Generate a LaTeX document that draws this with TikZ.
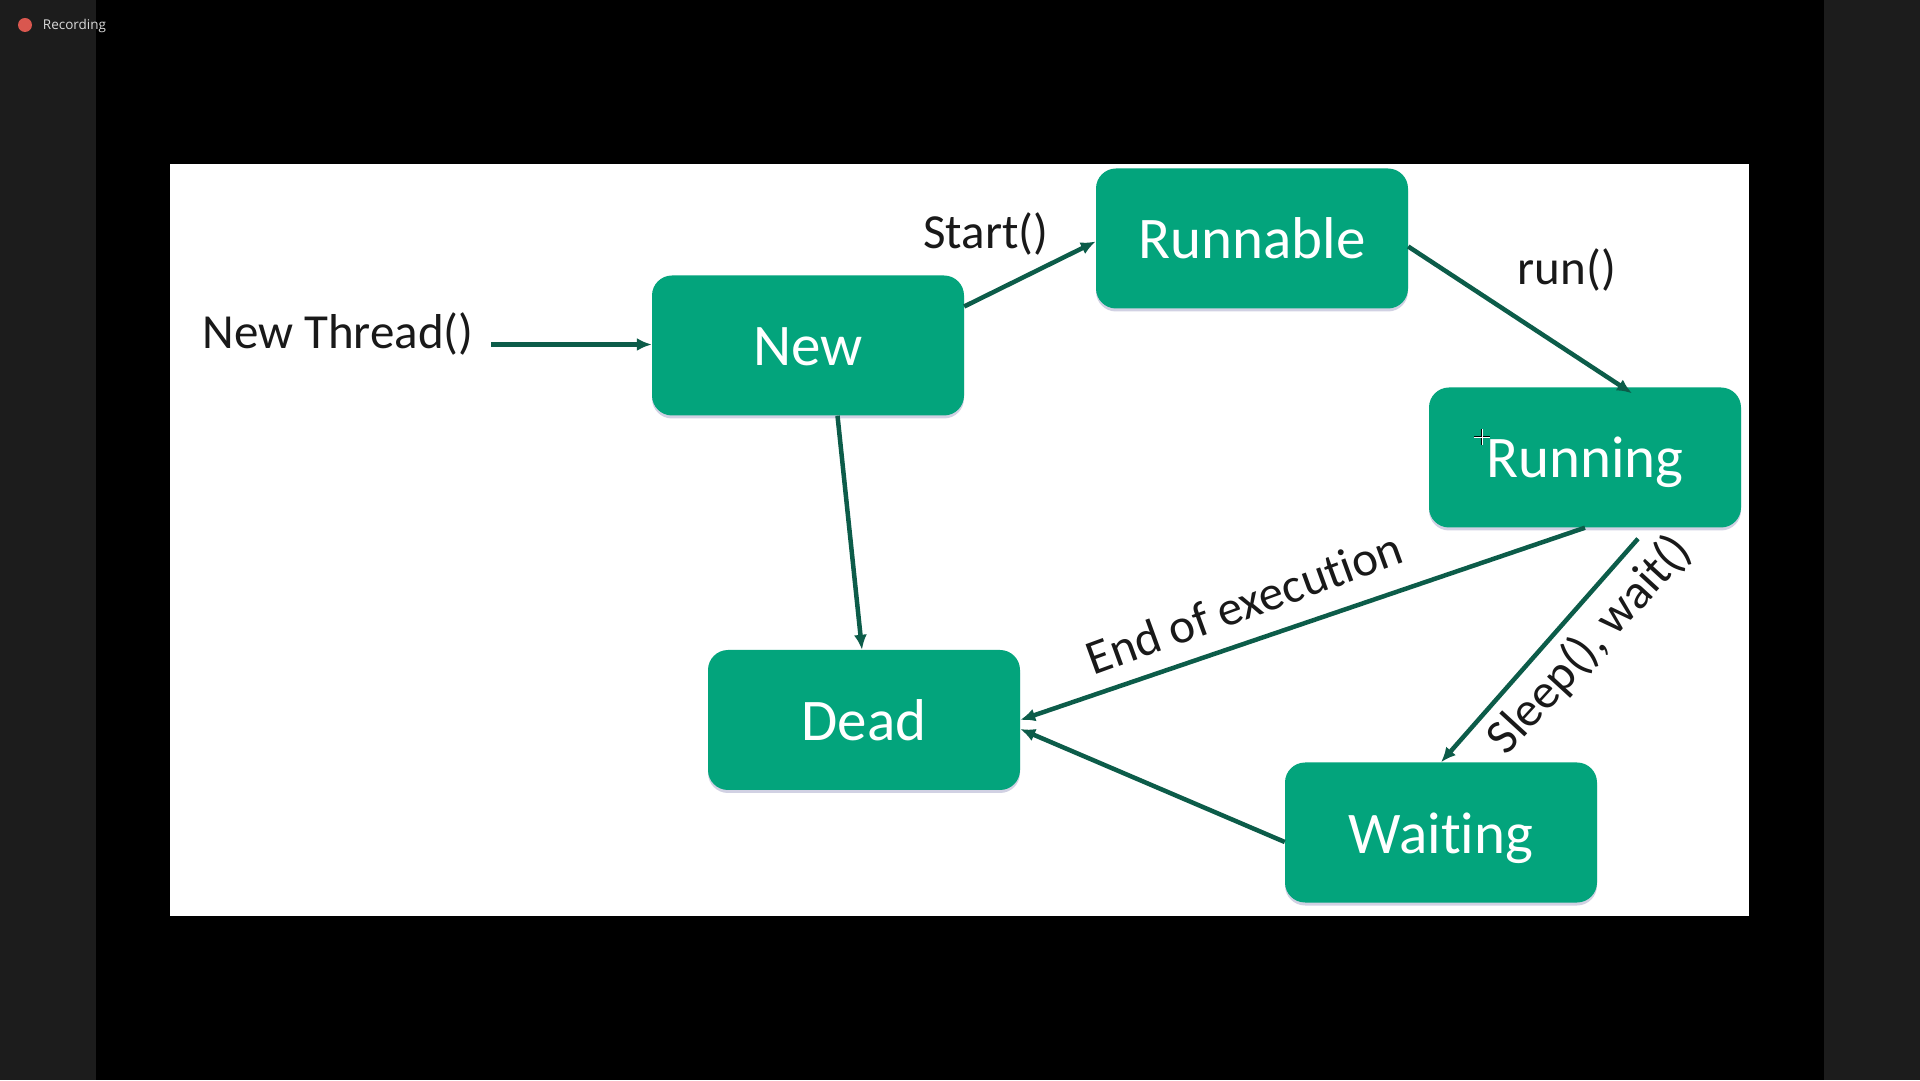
\documentclass[tikz,border=0pt]{standalone}
\usepackage{fontspec}
\setmainfont[Ligatures=CommonOff]{Carlito}
\newfontfamily\recfont{Open Sans}
\usetikzlibrary{arrows.meta}
\usetikzlibrary{shadows}
\definecolor{boxgreen}{HTML}{03A47C}
\definecolor{linegreen}{HTML}{0C5C49}
\definecolor{panelgray}{HTML}{1C1C1C}
\definecolor{recred}{HTML}{D9574F}
\tikzset{
  statebox/.style={shape=rectangle, rounded corners=20pt, minimum width=312pt, minimum height=140pt, text height=47pt, text depth=6pt, align=center, fill=boxgreen, text=white, font=\fontsize{59pt}{61pt}\selectfont, drop shadow={shadow xshift=0pt, shadow yshift=-3pt, opacity=0.18, fill=black!60!blue}},
  edgelabel/.style={text=black!90, font=\fontsize{49pt}{51pt}\selectfont},
  flow/.style={-{Latex[length=15pt,width=13pt]}, line width=4.5pt, draw=linegreen}
}
\begin{document}
\begin{tikzpicture}
\useasboundingbox (0pt,0pt) rectangle (1920pt,1080pt);
\fill[panelgray] (0pt,0pt) rectangle (1920pt,1080pt);
\fill[black] (96pt,0pt) rectangle (1824pt,1080pt);
\fill[white] (170pt,164pt) rectangle (1749pt,916pt);
\fill[recred] (25pt,1055pt) circle (7pt);
\node[text=white!85!black, font=\recfont\fontsize{13.5pt}{15pt}\selectfont] (recording) at (74.5pt,1054pt) {Recording};
% states
\node[statebox] (new) at (808pt,734.5pt) {New};
\node[statebox] (runnable) at (1252pt,841.5pt) {Runnable};
\node[statebox] (running) at (1585pt,622.5pt) {Running};
\node[statebox] (dead) at (864pt,360pt) {Dead};
\node[statebox] (waiting) at (1441pt,247.5pt) {Waiting};
% labels
\node[edgelabel] (newthread) at (338pt,746pt) {New Thread()};
\node[edgelabel] (startlabel) at (986pt,846pt) {Start()};
\node[edgelabel] (runlabel) at (1567pt,810pt) {run()};
\node[edgelabel, rotate=20] (endlabel) at (1244pt,477pt) {End of execution};
\node[edgelabel, rotate=47.5] (sleeplabel) at (1590pt,435pt) {Sleep(), wait()};
% arrows
\coordinate (threadstart) at (491pt,735.5pt);
\draw[flow] (threadstart) -- ([yshift=1pt]new.west);
\draw[flow] ([yshift=39pt]new.east) -- ([yshift=-3pt]runnable.west);
\draw[flow] ([yshift=-8pt]runnable.east) -- ([xshift=47pt,yshift=-6pt]running.north);
\draw[flow] (running.south) -- (dead.east);
\draw[flow] ([xshift=53pt,yshift=-11pt]running.south) -- (waiting.north);
\draw[flow] ([yshift=-9.5pt]waiting.west) -- ([yshift=-9pt]dead.east);
\draw[flow] ([xshift=29.5pt]new.south) -- ([xshift=-2pt]dead.north);
% cursor
\draw[black, line width=2pt] (1474pt,643pt) -- (1490pt,643pt) (1482pt,635pt) -- (1482pt,651pt);
\draw[white, line width=0.8pt] (1474pt,643pt) -- (1490pt,643pt) (1482pt,635pt) -- (1482pt,651pt);
\end{tikzpicture}
\end{document}
